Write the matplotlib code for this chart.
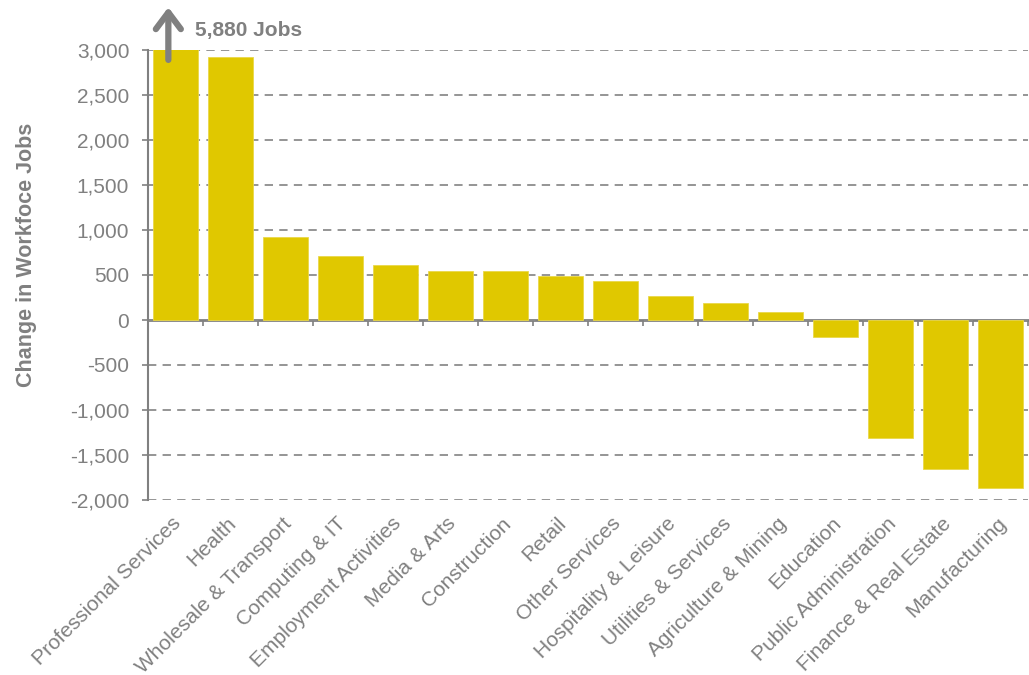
import matplotlib
matplotlib.use("Agg")
import matplotlib.pyplot as plt
from matplotlib.ticker import FuncFormatter, MultipleLocator
from matplotlib.transforms import ScaledTranslation

plt.rcParams['font.family'] = ['Liberation Sans', 'DejaVu Sans']
plt.rcParams['lines.scale_dashes'] = False

sectors = [
    "Professional Services", "Health", "Wholesale & Transport", "Computing & IT",
    "Employment Activities", "Media & Arts", "Construction", "Retail",
    "Other Services", "Hospitality & Leisure", "Utilities & Services",
    "Agriculture & Mining", "Education", "Public Administration",
    "Finance & Real Estate", "Manufacturing",
]
job_change = [5880, 2920, 920, 710, 610, 550, 540, 490,
              430, 265, 185, 90, -190, -1310, -1660, -1870]

GREY = '#808080'
BAR = '#E0C800'

W, H = 1029, 675
fig = plt.figure(figsize=(W / 100, H / 100), dpi=100)
ax = fig.add_axes([148 / W, 1 - 500 / H, 880 / W, 450 / H])

x = list(range(len(sectors)))
ax.bar(x, job_change, width=0.83, color=BAR, edgecolor='#EAD84A', linewidth=0.6, zorder=2)

ax.set_xlim(-0.5, len(sectors) - 0.5)
ax.set_ylim(-2000, 3000)
ax.yaxis.set_major_locator(MultipleLocator(500))
ax.yaxis.set_major_formatter(FuncFormatter(lambda v, p: f'{v:,.0f}'))

# dashed horizontal gridlines behind the bars
ax.set_axisbelow(True)
ax.grid(axis='y', color='#8C8C8C', linewidth=1.3, linestyle=(0, (6, 4.5)))

for side in ('top', 'right', 'bottom'):
    ax.spines[side].set_visible(False)
ax.spines['left'].set_color(GREY)
ax.spines['left'].set_linewidth(1.5)

ax.tick_params(axis='y', colors=GREY, labelsize=15, length=4.5, width=1.2,
               direction='out', pad=9, labelcolor=GREY)

# category labels along the bottom
ax.set_xticks(x)
ax.set_xticklabels(sectors, rotation=45, ha='right', va='top',
                   rotation_mode='anchor', fontsize=15, color=GREY)
ax.tick_params(axis='x', length=0, pad=10)
shift = ScaledTranslation(-4 / 100, 0, fig.dpi_scale_trans)
for lbl in ax.get_xticklabels():
    lbl.set_transform(lbl.get_transform() + shift)

# zero line with boundary ticks
zero = ax.secondary_xaxis(2000 / 5000)
zero.spines['bottom'].set_color(GREY)
zero.spines['bottom'].set_linewidth(2)
zero.set_xticks([i + 0.5 for i in x])
zero.set_xticklabels([])
zero.tick_params(axis='x', direction='out', length=4, width=1.2, colors=GREY)

fig.text(27 / W, 1 - 255 / H, 'Change in Workfoce Jobs', rotation=90,
         ha='center', va='center', fontsize=15.5, fontweight='bold', color=GREY)

# off-scale marker for the first bar
ax.annotate('', xy=(-0.13, 3475), xytext=(-0.13, 2890), xycoords='data',
            annotation_clip=False,
            arrowprops=dict(arrowstyle='->,head_length=0.6,head_width=0.45',
                            color=GREY, lw=4.5, mutation_scale=20,
                            shrinkA=0, shrinkB=0))
ax.text(0.35, 3222, f'{job_change[0]:,} Jobs', ha='left', va='center',
        fontsize=15, fontweight='bold', color=GREY, clip_on=False)

fig.savefig('out.png', dpi=100, facecolor='white')
